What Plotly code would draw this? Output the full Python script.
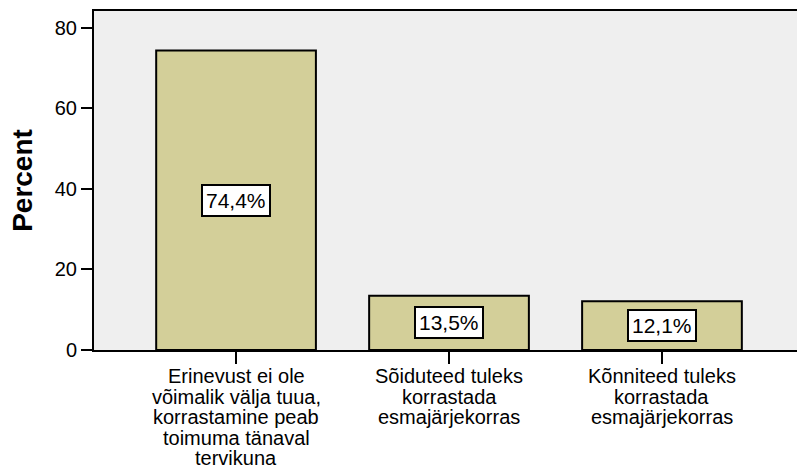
import plotly.graph_objects as go

# Survey answers and their shares (percent)
categories = [
    "Erinevust ei ole võimalik välja tuua, korrastamine peab toimuma tänaval tervikuna",
    "Sõiduteed tuleks korrastada esmajärjekorras",
    "Kõnniteed tuleks korrastada esmajärjekorras",
]
label_lines = [
    ["Erinevust ei ole", "võimalik välja tuua,", "korrastamine peab", "toimuma tänaval", "tervikuna"],
    ["Sõiduteed tuleks", "korrastada", "esmajärjekorras"],
    ["Kõnniteed tuleks", "korrastada", "esmajärjekorras"],
]
percent = [74.4, 13.5, 12.1]
y_ticks = [0, 20, 40, 60, 80]

FONT = "Liberation Sans, Arial, sans-serif"
BAR_COLOR = "#D3CF99"
BG_COLOR = "#EFEFEF"

x_pos = list(range(len(categories)))

fig = go.Figure()
fig.add_trace(go.Bar(
    x=x_pos,
    y=percent,
    width=0.75,
    marker=dict(color=BAR_COLOR, line=dict(color="black", width=2)),
    hoverinfo="skip",
))

# value boxes in the middle of each bar
for xi, v in zip(x_pos, percent):
    fig.add_annotation(
        x=xi, y=v / 2, xref="x", yref="y",
        text=f"{v:.1f}%".replace(".", ","),
        showarrow=False,
        font=dict(family=FONT, size=21, color="black"),
        bgcolor="white", bordercolor="black", borderwidth=2, borderpad=3,
    )

# multi-line category labels under the axis
line_gap = 20.6
for xi, lines in zip(x_pos, label_lines):
    for k, line in enumerate(lines):
        fig.add_annotation(
            x=xi, y=0, xref="x", yref="paper",
            yanchor="middle", yshift=-(26 + k * line_gap),
            text=line, showarrow=False,
            font=dict(family=FONT, size=20, color="black"),
        )

fig.update_layout(
    width=797, height=471,
    margin=dict(l=94, r=0, t=11, b=121),
    paper_bgcolor="white",
    plot_bgcolor=BG_COLOR,
    showlegend=False,
    font=dict(family=FONT, color="black"),
    xaxis=dict(
        range=[-0.667, 2.634],
        tickmode="array", tickvals=x_pos, ticktext=[""] * len(x_pos),
        ticks="outside", ticklen=12, tickwidth=2, tickcolor="black",
        showline=True, linecolor="black", linewidth=2, mirror=True,
        showgrid=False, zeroline=False, fixedrange=True,
    ),
    yaxis=dict(
        range=[0, 84.2],
        tickmode="array", tickvals=y_ticks,
        ticks="outside", ticklen=11, tickwidth=2, tickcolor="black",
        tickfont=dict(family=FONT, size=20, color="black"),
        showline=True, linecolor="black", linewidth=2,
        showgrid=False, zeroline=False, fixedrange=True,
        title=dict(text="<b>Percent</b>", font=dict(family=FONT, size=28, color="black"), standoff=14),
    ),
)

fig.write_html("out.html")
